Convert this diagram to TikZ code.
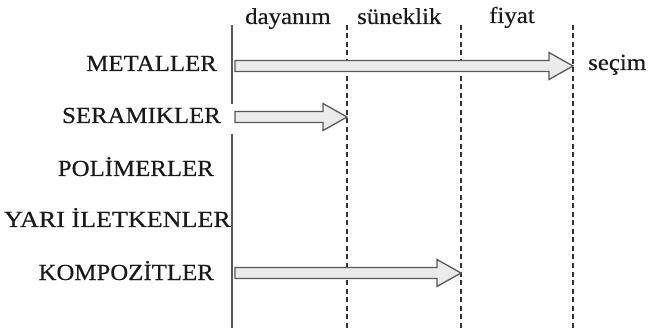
\documentclass[tikz,border=0pt]{standalone}
\usepackage{fontspec}
\setmainfont{Liberation Serif}
\newfontfamily\lblfont[FakeStretch=1.08,FakeBold=0.35]{Liberation Serif}
\usetikzlibrary{calc}
\tikzset{
  lbl/.style={inner sep=0pt, text=black!90, font=\lblfont\fontsize{23}{25}\selectfont},
  rowlbl/.style={lbl, anchor=base east},
  collbl/.style={lbl, anchor=base west},
  axisline/.style={draw=black!65, line width=1.2pt},
  dashline/.style={draw=black!80, line width=1.1pt, dash pattern=on 5pt off 3.5pt},
  fatarrow/.style={draw=black!65, fill=black!8, line width=1.3pt, line join=miter}
}
\newcommand\fatarr[2]{%
  \draw[fatarrow] ($(#1)+(0,-5.5)$) -- ($(#2)+(-24,-5.5)$) -- ($(#2)+(-24,-13.5)$) -- (#2)
    -- ($(#2)+(-24,13.5)$) -- ($(#2)+(-24,5.5)$) -- ($(#1)+(0,5.5)$) -- cycle;}
\begin{document}
\begin{tikzpicture}[x=1pt,y=-1pt]
\useasboundingbox[fill=white] (0,0) rectangle (664,331);
% column labels
\node[collbl] (dayanim) at (245,24) {dayanım};
\node[collbl] (suneklik) at (357,24) {süneklik};
\node[collbl] (fiyat) at (489,23) {fiyat};
\node[collbl] (secim) at (588,70) {seçim};
% row labels
\node[rowlbl] (metal) at (217,71) {METALLER};
\node[rowlbl] (seram) at (221,123) {SERAMIKLER};
\node[rowlbl] (polim) at (214,176) {POLİMERLER};
\node[rowlbl] (yari) at (231,227) {\scalebox{1.05}[1]{YARI İLETKENLER}};
\node[rowlbl] (kompo) at (214,280) {KOMPOZİTLER};
% vertical lines
\coordinate (v0) at (232,25);
\coordinate (v1) at (232,104);
\coordinate (v2) at (232,134);
\coordinate (v3) at (232,328);
\draw[axisline] (v0) -- (v1);
\draw[axisline] (v2) -- (v3);
\coordinate (d1t) at (347,25); \coordinate (d1b) at (347,331);
\coordinate (d2t) at (461,25); \coordinate (d2b) at (461,331);
\coordinate (d3t) at (573,25); \coordinate (d3b) at (573,331);
\draw[dashline] (d1t) -- (d1b);
\draw[dashline] (d2t) -- (d2b);
\draw[dashline] (d3t) -- (d3b);
% arrows
\coordinate (ma) at (235,66);  \coordinate (mb) at (573,66);
\coordinate (sa) at (235,117); \coordinate (sb) at (347,117);
\coordinate (ka) at (235,273); \coordinate (kb) at (461,273);
\fatarr{ma}{mb}
\fatarr{sa}{sb}
\fatarr{ka}{kb}
\end{tikzpicture}
\end{document}
